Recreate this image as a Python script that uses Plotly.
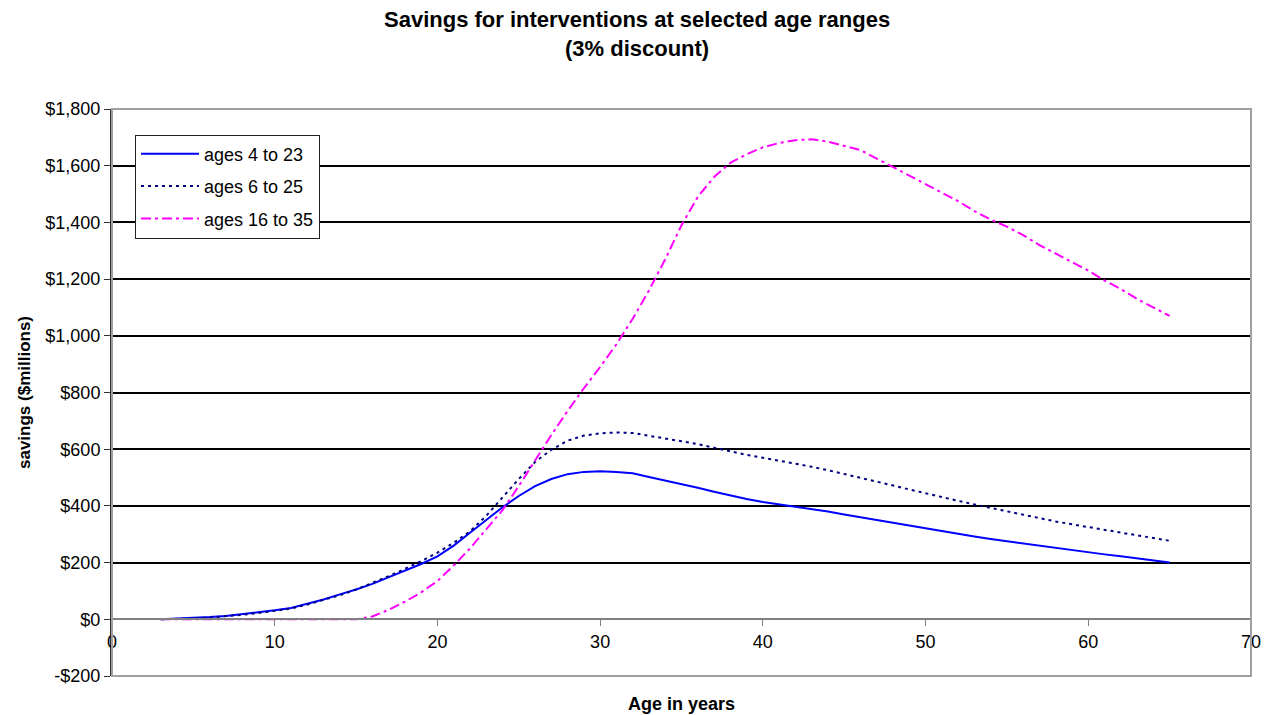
import plotly.graph_objects as go

# Age (years) for each point on the curves
ages = list(range(3, 66))

# Savings in $ millions for each intervention age range
savings_4_23 = [0, 2, 4, 8, 12, 18, 25, 32, 40, 55, 70, 88, 105, 125, 148, 170, 195,
                222, 260, 305, 350, 395, 435, 470, 495, 512, 520, 522, 520, 515, 502,
                490, 477, 464, 450, 436, 424, 414, 406, 398, 390, 380, 370, 360, 350,
                340, 330, 320, 310, 300, 292, 283, 275, 267, 259, 251, 243, 236, 229,
                222, 214, 207, 200]

savings_6_25 = [0, 1, 3, 6, 10, 16, 22, 30, 38, 52, 68, 85, 105, 128, 152, 178, 205,
                235, 270, 310, 365, 430, 495, 555, 598, 630, 648, 656, 659, 657, 648,
                638, 628, 618, 605, 592, 580, 570, 560, 550, 538, 526, 513, 500, 486,
                472, 458, 444, 430, 418, 405, 393, 380, 368, 356, 345, 335, 325, 315,
                305, 295, 285, 277]

savings_16_35 = [0, 0, 0, 0, 0, 0, 0, 0, 0, 0, 0, 0, 0, 10, 33, 62, 95,
                 135, 190, 250, 316, 385, 470, 560, 650, 735, 815, 890, 970, 1060, 1160,
                 1270, 1390, 1490, 1560, 1610, 1640, 1665, 1680, 1690, 1693, 1685, 1670, 1655, 1625,
                 1595, 1565, 1535, 1505, 1475, 1440, 1410, 1385, 1355, 1320, 1290, 1260, 1230, 1195,
                 1165, 1130, 1100, 1070]

series_names = ["ages 4 to 23", "ages 6 to 25", "ages 16 to 35"]

y_tickvals = [-200, 0, 200, 400, 600, 800, 1000, 1200, 1400, 1600, 1800]
y_ticktext = ["-$200", "$0", "$200", "$400", "$600", "$800", "$1,000",
              "$1,200", "$1,400", "$1,600", "$1,800"]
x_tickvals = [0, 10, 20, 30, 40, 50, 60, 70]

FONT = "Liberation Sans, Arial, sans-serif"

fig = go.Figure()
fig.add_trace(go.Scatter(x=ages, y=savings_4_23, mode="lines", name=series_names[0],
                         legendgroup="a",
                         line=dict(color="#0000FF", width=2)))
fig.add_trace(go.Scatter(x=ages, y=savings_6_25, mode="lines", name=series_names[1],
                         legendgroup="b",
                         line=dict(color="#000080", width=2, dash="3px,4px")))
fig.add_trace(go.Scatter(x=ages, y=savings_16_35, mode="lines", name=series_names[2],
                         legendgroup="c",
                         line=dict(color="#FF00FF", width=2, dash="10px,4px,3px,4px")))

fig.update_layout(
    width=1274, height=715,
    margin=dict(l=112, r=23, t=109, b=39),
    paper_bgcolor="white", plot_bgcolor="white",
    font=dict(family=FONT, size=17, color="black"),
    showlegend=True,
    legend=dict(x=0.0202, y=0.955, xanchor="left", yanchor="top",
                bgcolor="white", bordercolor="#202020", borderwidth=1,
                font=dict(family=FONT, size=18, color="black"),
                tracegroupgap=6, itemwidth=58),
    xaxis=dict(range=[0, 70], tickvals=x_tickvals, anchor="free", position=0.1,
               showline=True, linecolor="#808080", linewidth=2,
               ticks="outside", ticklen=6, tickcolor="#808080", tickwidth=1,
               showgrid=False, zeroline=False,
               tickfont=dict(family=FONT, size=18, color="black"),
               title=None),
    yaxis=dict(range=[-200, 1800], tickvals=y_tickvals, ticktext=y_ticktext,
               showline=True, linecolor="#303030", linewidth=2,
               ticks="outside", ticklen=6, tickcolor="#303030", tickwidth=1,
               showgrid=True, gridcolor="#000000", gridwidth=2,
               zeroline=True, zerolinecolor="#808080", zerolinewidth=2,
               tickfont=dict(family=FONT, size=18, color="black"),
               title=dict(text="<b>savings ($millions)</b>", standoff=10,
                          font=dict(family=FONT, size=17, color="black"))),
    shapes=[dict(type="rect", xref="paper", yref="paper", x0=0, x1=1, y0=0, y1=1,
                 line=dict(color="#A0A0A0", width=2), layer="above")],
    annotations=[
        dict(text="<b>Savings for interventions at selected age ranges<br>(3% discount)</b>",
             xref="paper", yref="paper", x=0.4605, y=1.1315,
             xanchor="center", yanchor="middle", showarrow=False,
             font=dict(family=FONT, size=22, color="black")),
        dict(text="<b>Age in years</b>", xref="paper", yref="paper",
             x=0.5, y=-0.049, xanchor="center", yanchor="middle",
             showarrow=False, font=dict(family=FONT, size=18, color="black")),
    ],
)

fig.write_html("out.html")
